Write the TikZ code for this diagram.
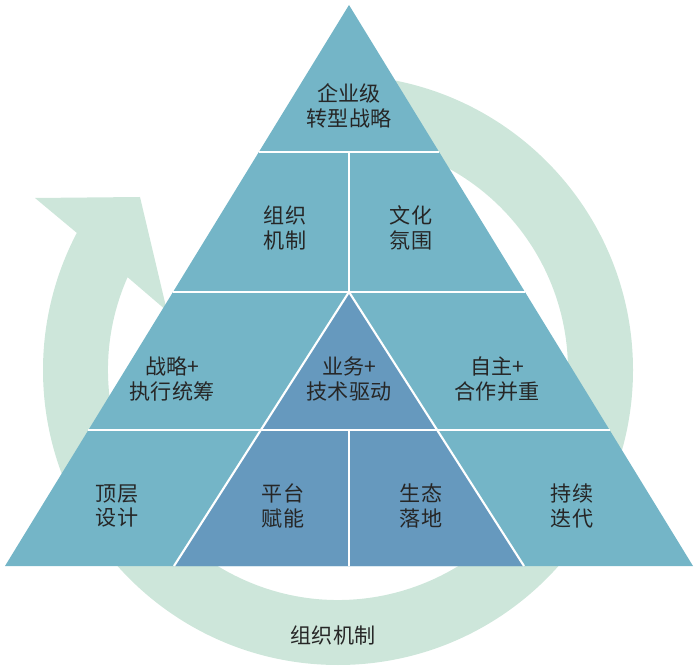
\documentclass[tikz,border=0pt]{standalone}
\usepackage{fontspec}
\newfontfamily\cjk{Noto Sans CJK SC}
\usetikzlibrary{positioning}
\definecolor{ringgreen}{HTML}{CDE6DA}
\definecolor{tealblue}{HTML}{74B5C7}
\definecolor{deepblue}{HTML}{6699BE}

\begin{document}
\begin{tikzpicture}[x=0.03cm, y=0.03cm,
  lbl/.style={font=\cjk\fontsize{18}{21}\selectfont, align=center, text=black!85},
  gap/.style={draw=white, line width=1.8pt}]
  \useasboundingbox (0,0) rectangle (700,668);
  % circular arrow behind the pyramid
  \fill[ringgreen] ([shift={(338,298)}]90:295) arc[start angle=90, end angle=-207.7, radius=295]
    -- (35,470) -- (140,471) -- (167,357)
    -- ([shift={(338,298)}]-203.8:230) arc[start angle=-203.8, end angle=90, radius=230] -- cycle;
  % pyramid pieces
  \fill[tealblue] (349,663) -- (693,102) -- (5,102) -- cycle;
  \fill[deepblue] (349,376) -- (524,102) -- (174,102) -- cycle;
  % white gaps
  \draw[gap] (259,516) -- (439,516);
  \draw[gap] (173,376) -- (525,376);
  \draw[gap] (88,238) -- (610,238);
  \draw[gap] (349,516) -- (349,376);
  \draw[gap] (349,238) -- (349,102);
  \draw[gap] (174,102) -- (349,376) -- (524,102);
  % labels
  \node[lbl] (top) at (349,562) {企业级\\转型战略};
  \node[lbl] (org) at (285,440) {组织\\机制};
  \node[lbl] (cul) at (411,440) {文化\\氛围};
  \node[lbl] (plan) at (172,289) {战略+\\执行统筹};
  \node[lbl] (core) at (349,289) {业务+\\技术驱动};
  \node[lbl] (coop) at (497,289) {自主+\\合作并重};
  \node[lbl] (design) at (117,162) {顶层\\设计};
  \node[lbl] (plat) at (283,162) {平台\\赋能};
  \node[lbl] (eco) at (421,162) {生态\\落地};
  \node[lbl] (iter) at (572,162) {持续\\迭代};
  \node[lbl] (ring) at (333,33) {组织机制};
\end{tikzpicture}
\end{document}
